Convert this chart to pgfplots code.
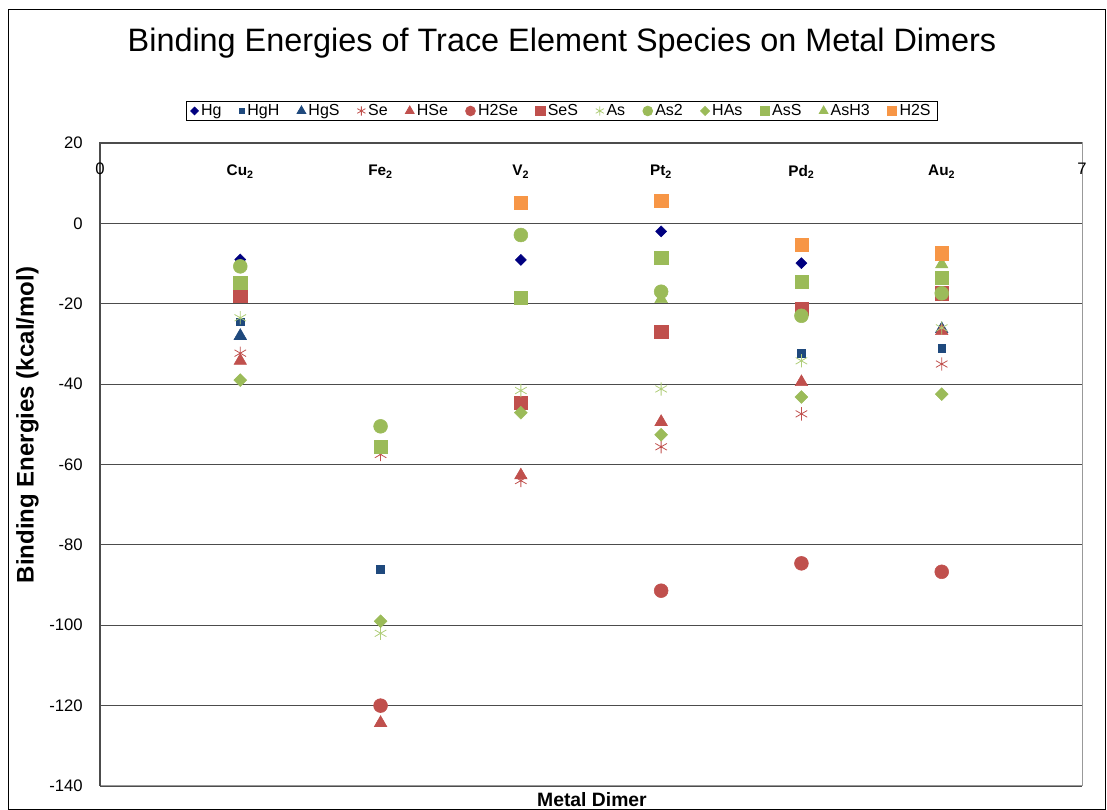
\documentclass[border=0pt]{standalone}
\usepackage{fontspec}
\setmainfont{Liberation Sans}
\usepackage{pgfplots}
\pgfplotsset{compat=1.18}

\definecolor{navy}{RGB}{0,0,128}
\definecolor{dblue}{RGB}{31,73,125}
\definecolor{ered}{RGB}{192,80,77}
\definecolor{egreen}{RGB}{155,187,89}
\definecolor{lgreen}{RGB}{175,205,120}
\definecolor{eorange}{RGB}{247,150,70}

\begin{document}
\begin{tikzpicture}
\useasboundingbox (0,0) rectangle (830.25pt,607.5pt);
\draw[black, line width=0.75pt] (6pt,0.4pt) rectangle (828.75pt,600pt);
\node[font=\fontsize{24.3}{28}\selectfont] at (421.5pt,575.25pt) {Binding Energies of Trace Element Species on Metal Dimers};
\begin{axis}[
  at={(75pt,18pt)}, anchor=south west,
  scale only axis, width=736.5pt, height=482.25pt,
  xmin=0, xmax=7, ymin=-140, ymax=20,
  xtick=\empty,
  ytick={-140,-120,...,20},
  ymajorgrids, grid style={black!70, line width=0.9pt},
  axis line style={black!40, line width=0.75pt},
  major tick length=0pt,
  clip=false,
  tick label style={font=\fontsize{12.5}{14}\selectfont},
  /pgf/number format/assume math mode=true,
  yticklabel style={anchor=east, inner sep=0pt, xshift=-12.75pt},
  ylabel={Binding Energies (kcal/mol)},
  xlabel={Metal Dimer},
  ylabel style={font=\bfseries\fontsize{18}{20}\selectfont, at={(axis description cs:-0.0738,0.5614)}, anchor=center},
  xlabel style={font=\bfseries\fontsize{14.5}{17}\selectfont, at={(axis description cs:0.501,-0.0218)}, anchor=center},
  legend columns=13,
  legend style={at={(axis description cs:0.4705,1.0498)}, anchor=center, draw=black, line width=0.6pt,
    font=\fontsize{12}{14}\selectfont, inner xsep=3pt, inner ysep=1.5pt,
    nodes={inner xsep=2pt, inner ysep=1pt},
    /tikz/every even column/.append style={column sep=11.3pt}},
  legend image code/.code={\draw[#1, mark repeat=2, mark phase=2] plot coordinates {(0pt,0pt)(4.5pt,0pt)(9pt,0pt)};},
  legend image post style={/tikz/every mark/.append style={scale=0.7}},
]
\draw[black!70, line width=0.9pt] (axis cs:0,-140) -- (axis cs:0,20) -- (axis cs:7,20);

% Hg
\addplot[only marks, color=navy, mark=square*, mark size=2.9pt, mark options={rotate=45}] coordinates {(1,-9) (3,-9.1) (4,-2) (5,-9.9)};
\addlegendentry{Hg}
% HgH
\addplot[only marks, color=dblue, mark=square*, mark size=2.9pt] coordinates {(1,-24.5) (2,-86) (5,-32.3) (6,-31)};
\addlegendentry{HgH}
% HgS
\addplot[only marks, color=dblue, mark=triangle*, mark size=5.4pt] coordinates {(1,-28) (6,-26.3)};
\addlegendentry{HgS}
% Se
\addplot[only marks, color=ered, mark=asterisk, mark size=5pt, line width=0.6pt] coordinates {(1,-32.3) (2,-57.5) (3,-64) (4,-55.6) (5,-47.4) (6,-35)};
\addlegendentry{Se}
% HSe
\addplot[only marks, color=ered, mark=triangle*, mark size=5.4pt] coordinates {(1,-34.2) (2,-124.3) (3,-62.7) (4,-49.4) (5,-39.5) (6,-26.8)};
\addlegendentry{HSe}
% H2Se
\addplot[only marks, color=ered, mark=*, mark size=5.2pt] coordinates {(2,-120) (4,-91.4) (5,-84.6) (6,-86.7)};
\addlegendentry{H2Se}
% SeS
\addplot[only marks, color=ered, mark=square*, mark size=5pt] coordinates {(1,-18) (3,-44.6) (4,-27) (5,-21.3) (6,-17.4)};
\addlegendentry{SeS}
% As
\addplot[only marks, color=lgreen, mark=asterisk, mark size=5pt, line width=0.6pt] coordinates {(1,-23.5) (2,-102) (3,-41.6) (4,-41.2) (5,-34.2) (6,-26)};
\addlegendentry{As}
% As2
\addplot[only marks, color=egreen, mark=*, mark size=5.2pt] coordinates {(1,-10.7) (2,-50.5) (3,-2.9) (4,-17) (5,-23) (6,-17.4)};
\addlegendentry{As2}
% HAs
\addplot[only marks, color=egreen, mark=square*, mark size=3.4pt, mark options={rotate=45}] coordinates {(1,-39) (2,-99) (3,-47.1) (4,-52.6) (5,-43.2) (6,-42.5)};
\addlegendentry{HAs}
% AsS
\addplot[only marks, color=egreen, mark=square*, mark size=5pt] coordinates {(1,-14.8) (2,-55.6) (3,-18.5) (4,-8.6) (5,-14.6) (6,-13.5)};
\addlegendentry{AsS}
% AsH3
\addplot[only marks, color=egreen, mark=triangle*, mark size=5.4pt] coordinates {(4,-18.8) (6,-10.2)};
\addlegendentry{AsH3}
% H2S
\addplot[only marks, color=eorange, mark=square*, mark size=5pt] coordinates {(3,5.1) (4,5.7) (5,-5.3) (6,-7.4)};
\addlegendentry{H2S}

\node[anchor=north, inner sep=0pt, font=\fontsize{12.5}{14}\selectfont, yshift=-15pt] at (axis cs:0,20) {0};
\node[anchor=north, inner sep=0pt, font=\fontsize{12.5}{14}\selectfont, yshift=-15pt] at (axis cs:7,20) {7};
\node[anchor=north, inner sep=0pt, font=\bfseries\fontsize{11.5}{13}\selectfont, yshift=-16.5pt] at (axis cs:1,20) {Cu\textsubscript{2}};
\node[anchor=north, inner sep=0pt, font=\bfseries\fontsize{11.5}{13}\selectfont, yshift=-16.5pt] at (axis cs:2,20) {Fe\textsubscript{2}};
\node[anchor=north, inner sep=0pt, font=\bfseries\fontsize{11.5}{13}\selectfont, yshift=-16.5pt] at (axis cs:3,20) {V\textsubscript{2}};
\node[anchor=north, inner sep=0pt, font=\bfseries\fontsize{11.5}{13}\selectfont, yshift=-16.5pt] at (axis cs:4,20) {Pt\textsubscript{2}};
\node[anchor=north, inner sep=0pt, font=\bfseries\fontsize{11.5}{13}\selectfont, yshift=-16.5pt] at (axis cs:5,20) {Pd\textsubscript{2}};
\node[anchor=north, inner sep=0pt, font=\bfseries\fontsize{11.5}{13}\selectfont, yshift=-16.5pt] at (axis cs:6,20) {Au\textsubscript{2}};
\end{axis}
\end{tikzpicture}
\end{document}
